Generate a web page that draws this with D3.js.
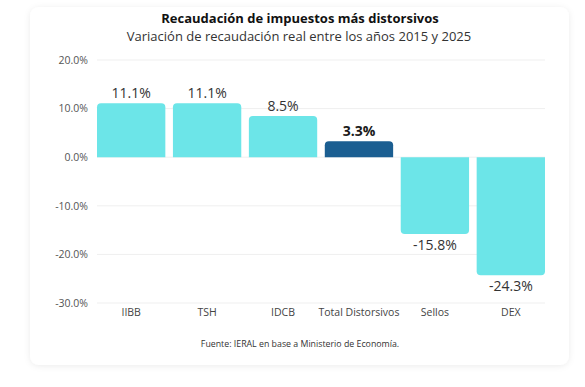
<!DOCTYPE html>
<html>
<head>
  <meta charset="utf-8">
  <title>Recaudación de impuestos más distorsivos</title>
  <style>
    body {
      margin: 0;
      padding: 0;
      background-color: #ffffff;
      font-family: "Open Sans", Arial, sans-serif;
    }
    svg {
      display: block;
    }
  </style>
</head>
<body>
  <div id="chart"></div>

  <script src="https://d3js.org/d3.v7.min.js"></script>
  <script>
    // Data
    const categories = ["IIBB", "TSH", "IDCB", "Total Distorsivos", "Sellos", "DEX"];
    const values = [11.1, 11.1, 8.5, 3.3, -15.8, -24.3];
    const highlighted = ["Total Distorsivos"];
    const yTicks = [20, 10, 0, -10, -20, -30];

    const width = 585;
    const height = 387;
    const margin = { top: 60, right: 40, bottom: 84, left: 97 };

    const svg = d3.select("#chart")
      .append("svg")
      .attr("width", width)
      .attr("height", height);

    // Card with soft shadow
    const defs = svg.append("defs");
    const shadow = defs.append("filter")
      .attr("id", "shadow")
      .attr("x", "-10%").attr("y", "-10%")
      .attr("width", "120%").attr("height", "120%");
    shadow.append("feDropShadow")
      .attr("dx", 0).attr("dy", 1)
      .attr("stdDeviation", 3)
      .attr("flood-color", "#000")
      .attr("flood-opacity", 0.08);

    svg.append("rect")
      .attr("x", 30).attr("y", 7)
      .attr("width", 539).attr("height", 358)
      .attr("rx", 9)
      .attr("fill", "#fff")
      .attr("filter", "url(#shadow)");

    // Scales
    const x = d3.scaleBand()
      .domain(categories)
      .range([margin.left, width - margin.right])
      .paddingInner(0.1)
      .paddingOuter(0.0);

    const y = d3.scaleLinear()
      .domain([-30, 20])
      .range([height - margin.bottom, margin.top]);

    // Gridlines
    svg.append("g")
      .selectAll("line")
      .data(yTicks)
      .join("line")
      .attr("x1", margin.left)
      .attr("x2", width - margin.right)
      .attr("y1", d => y(d))
      .attr("y2", d => y(d))
      .attr("stroke", "#efefef")
      .attr("stroke-width", 1);

    // Y axis labels
    const yAxis = d3.axisLeft(y)
      .tickValues(yTicks)
      .tickFormat(d => d.toFixed(1) + "%")
      .tickSize(0)
      .tickPadding(9);

    svg.append("g")
      .attr("transform", `translate(${margin.left},0)`)
      .call(yAxis)
      .call(g => g.select(".domain").remove())
      .call(g => g.selectAll("text")
        .attr("font-family", "'Open Sans', sans-serif")
        .attr("font-size", 10.5)
        .attr("fill", "#555"));

    // Bars with rounded outer corners
    const r = 4;
    function barPath(d, i) {
      const x0 = x(categories[i]);
      const w = x.bandwidth();
      const y0 = y(0);
      const y1 = y(d);
      if (d >= 0) {
        return `M${x0},${y0} L${x0},${y1 + r} Q${x0},${y1} ${x0 + r},${y1}
                L${x0 + w - r},${y1} Q${x0 + w},${y1} ${x0 + w},${y1 + r} L${x0 + w},${y0} Z`;
      }
      return `M${x0},${y0} L${x0},${y1 - r} Q${x0},${y1} ${x0 + r},${y1}
              L${x0 + w - r},${y1} Q${x0 + w},${y1} ${x0 + w},${y1 - r} L${x0 + w},${y0} Z`;
    }

    svg.append("g")
      .selectAll("path")
      .data(values)
      .join("path")
      .attr("d", barPath)
      .attr("fill", (d, i) => highlighted.includes(categories[i]) ? "#1b5e91" : "#6ce5e8");

    // Value labels
    svg.append("g")
      .selectAll("text")
      .data(values)
      .join("text")
      .attr("x", (d, i) => x(categories[i]) + x.bandwidth() / 2)
      .attr("y", d => d >= 0 ? y(d) - 5 : y(d) + 16)
      .attr("text-anchor", "middle")
      .attr("font-family", "'Open Sans', sans-serif")
      .attr("font-size", 14)
      .attr("font-weight", (d, i) => highlighted.includes(categories[i]) ? 700 : 400)
      .attr("fill", (d, i) => highlighted.includes(categories[i]) ? "#1a1a1a" : "#333")
      .text(d => d.toFixed(1) + "%");

    // X axis labels
    const xAxis = d3.axisBottom(x).tickSize(0).tickPadding(6);
    svg.append("g")
      .attr("transform", `translate(0,${y(-30)})`)
      .call(xAxis)
      .call(g => g.select(".domain").remove())
      .call(g => g.selectAll("text")
        .attr("font-family", "'Open Sans', sans-serif")
        .attr("font-size", 10.5)
        .attr("fill", "#444"));

    // Title and subtitle
    svg.append("text")
      .attr("x", 300).attr("y", 23)
      .attr("text-anchor", "middle")
      .attr("font-family", "'Open Sans', sans-serif")
      .attr("font-weight", 700)
      .attr("font-size", 13)
      .attr("fill", "#111")
      .text("Recaudación de impuestos más distorsivos");

    svg.append("text")
      .attr("x", 299).attr("y", 41)
      .attr("text-anchor", "middle")
      .attr("font-family", "'Open Sans', sans-serif")
      .attr("font-size", 13)
      .attr("fill", "#333")
      .text("Variación de recaudación real entre los años 2015 y 2025");

    // Source
    svg.append("text")
      .attr("x", 300).attr("y", 347)
      .attr("text-anchor", "middle")
      .attr("font-family", "'Open Sans', sans-serif")
      .attr("font-size", 8.8)
      .attr("fill", "#333")
      .text("Fuente: IERAL en base a Ministerio de Economía.");
  </script>
</body>
</html>
